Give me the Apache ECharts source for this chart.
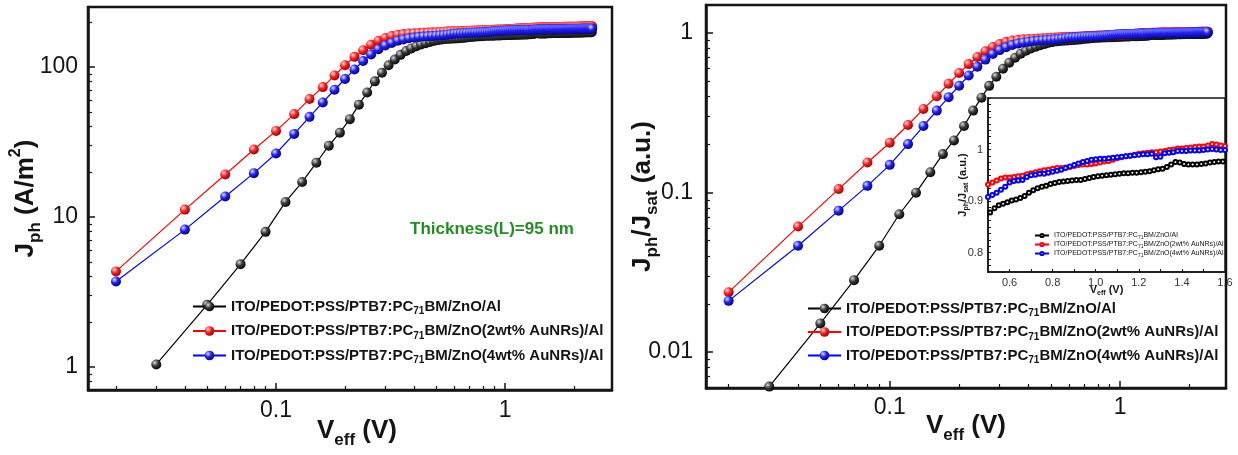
<!DOCTYPE html>
<html>
<head>
<meta charset="utf-8">
<title>Jph vs Veff</title>
<script src="https://cdn.jsdelivr.net/npm/echarts@6.0.0/dist/echarts.min.js"></script>
<style>
  html, body { margin: 0; padding: 0; background: #fff; }
  #chart { width: 1238px; height: 455px; }
</style>
</head>
<body>
<div id="chart"></div>
<script>
// effective voltage (V): the pristine device was sampled on odd hundredths, the AuNR devices on even ones
const vEven = [
  0.02,0.04,0.06,0.08,0.10,0.12,0.14,0.16,0.18,0.20,
  0.22,0.24,0.26,0.28,0.30,0.32,0.34,0.36,0.38,0.40,
  0.42,0.44,0.46,0.48,0.50,0.52,0.54,0.56,0.58,0.60,
  0.62,0.64,0.66,0.68,0.70,0.72,0.74,0.76,0.78,0.80,
  0.82,0.84,0.86,0.88,0.90,0.92,0.94,0.96,0.98,1.00,
  1.02,1.04,1.06,1.08,1.10,1.12,1.14,1.16,1.18,1.20,
  1.22,1.24,1.26,1.28,1.30,1.32,1.34,1.36,1.38,1.40,
  1.42,1.44,1.46,1.48,1.50,1.52,1.54,1.56,1.58,1.60,
  1.62,1.64,1.66,1.68,1.70,1.72,1.74,1.76,1.78,1.80,
  1.82,1.84,1.86,1.88,1.90,1.92,1.94,1.96,1.98,2.00,
  2.02,2.04,2.06,2.08,2.10,2.12,2.14,2.16,2.18,2.20,
  2.22,2.24,2.26,2.28,2.30,2.32,2.34,2.36,2.38,2.40
];
const vOdd = [
  0.03,0.05,0.07,0.09,0.11,0.13,0.15,0.17,0.19,0.21,
  0.23,0.25,0.27,0.29,0.31,0.33,0.35,0.37,0.39,0.41,
  0.43,0.45,0.47,0.49,0.51,0.53,0.55,0.57,0.59,0.61,
  0.63,0.65,0.67,0.69,0.71,0.73,0.75,0.77,0.79,0.81,
  0.83,0.85,0.87,0.89,0.91,0.93,0.95,0.97,0.99,1.01,
  1.03,1.05,1.07,1.09,1.11,1.13,1.15,1.17,1.19,1.21,
  1.23,1.25,1.27,1.29,1.31,1.33,1.35,1.37,1.39,1.41,
  1.43,1.45,1.47,1.49,1.51,1.53,1.55,1.57,1.59,1.61,
  1.63,1.65,1.67,1.69,1.71,1.73,1.75,1.77,1.79,1.81,
  1.83,1.85,1.87,1.89,1.91,1.93,1.95,1.97,1.99,2.01,
  2.03,2.05,2.07,2.09,2.11,2.13,2.15,2.17,2.19,2.21,
  2.23,2.25,2.27,2.29,2.31,2.33,2.35,2.37,2.39
];

// photocurrent density Jph (A/m2), left panel
const jphPristine = [
  1.04,2.60,4.85,7.96,12.6,17.1,23.0,29.9,36.5,44.9,
  56.1,67.6,80.2,91.5,102.7,112.0,120.4,127.6,133.0,137.6,
  141.0,144.1,146.7,149.3,151.0,152.4,153.4,153.9,154.5,155.0,
  155.3,155.8,156.5,157.6,158.4,159.1,159.6,160.0,160.5,160.8,
  161.2,161.3,161.5,161.7,161.9,161.9,162.2,162.5,162.9,163.1,
  163.2,163.4,163.6,163.7,163.9,164.1,164.1,164.3,164.3,164.4,
  164.6,164.8,165.1,165.5,165.6,166.2,167.0,167.9,167.7,167.2,
  167.0,167.0,167.0,167.2,167.4,167.7,167.9,168.0,168.0,168.2,
  168.2,168.4,168.2,168.6,168.7,168.6,168.7,168.9,168.7,168.9,
  169.1,168.9,169.2,169.1,169.2,169.4,169.2,169.4,169.6,169.4,
  169.6,169.8,169.6,169.8,169.9,169.8,169.9,170.1,169.9,170.1,
  170.3,170.1,170.3,170.5,170.3,170.5,170.6,170.5,170.6
];
const jph2wt = [
  4.34,11.2,19.2,28.2,37.5,48.5,61.1,73.4,87.8,102.7,
  116.8,129.4,140.5,149.5,156.1,161.0,164.0,165.8,167.1,168.0,
  168.5,169.1,169.6,170.2,170.6,171.3,172.0,172.8,173.1,173.1,
  173.3,173.5,173.7,174.2,174.6,174.9,175.3,175.7,175.9,176.2,
  176.4,176.4,176.6,176.8,177.1,177.5,177.7,177.7,177.9,178.1,
  178.4,178.8,179.0,179.3,179.9,180.3,180.6,180.8,181.2,181.5,
  181.7,181.9,182.1,182.1,182.3,182.5,182.8,183.0,183.4,183.4,
  183.5,183.7,183.9,184.1,184.1,184.5,185.0,184.8,184.5,184.3,
  184.5,184.5,184.6,184.8,184.6,184.8,185.0,184.8,185.0,185.2,
  185.2,185.0,185.2,185.4,185.4,185.2,185.4,185.6,185.6,185.4,
  185.6,185.7,185.7,185.6,185.7,185.9,185.9,185.7,185.9,186.1,
  185.9,186.1,186.1,186.3,186.1,186.3,186.3,186.5,186.3,186.5
];
const jph4wt = [
  3.72,8.24,13.7,19.6,26.5,35.8,46.5,58.0,70.5,83.1,
  96.3,109.5,121.2,131.4,139.0,144.7,149.5,152.7,155.2,157.0,
  158.4,159.5,160.4,161.1,161.6,162.3,163.0,164.1,165.2,166.6,
  167.1,167.3,167.5,168.6,169.1,169.3,169.6,169.6,170.0,170.3,
  170.7,171.1,171.6,172.1,172.7,173.2,173.7,174.1,174.4,174.6,
  174.8,174.8,175.0,175.2,175.3,175.5,175.7,175.9,176.0,176.2,
  176.4,176.4,176.6,175.3,175.5,176.8,176.9,177.1,177.5,177.5,
  177.5,177.6,177.6,177.6,177.8,178.0,178.2,178.0,177.8,177.8,
  178.0,178.0,178.2,178.0,178.2,178.4,178.4,178.2,178.5,178.5,
  178.5,178.7,178.5,178.7,178.9,178.9,178.7,179.1,179.1,178.9,
  179.2,179.2,179.1,179.4,179.2,179.4,179.6,179.4,179.6,179.8,
  179.6,179.8,180.0,179.8,180.0,180.1,180.0,180.1,180.3,180.1
];

// normalised photocurrent Jph/Jsat, right panel and inset
const ratioPristine = [
  0.00606,0.0151,0.0282,0.0463,0.0730,0.0997,0.134,0.174,0.212,0.261,
  0.326,0.393,0.466,0.532,0.597,0.651,0.700,0.742,0.773,0.800,
  0.820,0.838,0.853,0.868,0.878,0.886,0.892,0.895,0.898,0.901,
  0.903,0.906,0.910,0.916,0.921,0.925,0.928,0.930,0.933,0.935,
  0.937,0.938,0.939,0.940,0.941,0.941,0.943,0.945,0.947,0.948,
  0.949,0.950,0.951,0.952,0.953,0.954,0.954,0.955,0.955,0.956,
  0.957,0.958,0.960,0.962,0.963,0.966,0.971,0.976,0.975,0.972,
  0.971,0.971,0.971,0.972,0.973,0.975,0.976,0.977,0.977,0.978,
  0.978,0.979,0.978,0.980,0.981,0.980,0.981,0.982,0.981,0.982,
  0.983,0.982,0.984,0.983,0.984,0.985,0.984,0.985,0.986,0.985,
  0.986,0.987,0.986,0.987,0.988,0.987,0.988,0.989,0.988,0.989,
  0.990,0.989,0.990,0.991,0.990,0.991,0.992,0.991,0.992
];
const ratio2wt = [
  0.0237,0.0611,0.105,0.154,0.205,0.265,0.334,0.401,0.480,0.561,
  0.638,0.707,0.768,0.817,0.853,0.880,0.896,0.906,0.913,0.918,
  0.921,0.924,0.927,0.930,0.932,0.936,0.940,0.944,0.946,0.946,
  0.947,0.948,0.949,0.952,0.954,0.956,0.958,0.960,0.961,0.963,
  0.964,0.964,0.965,0.966,0.968,0.970,0.971,0.971,0.972,0.973,
  0.975,0.977,0.978,0.980,0.983,0.985,0.987,0.988,0.990,0.992,
  0.993,0.994,0.995,0.995,0.996,0.997,0.999,1.000,1.002,1.002,
  1.003,1.004,1.005,1.006,1.006,1.008,1.011,1.010,1.008,1.007,
  1.008,1.008,1.009,1.010,1.009,1.010,1.011,1.010,1.011,1.012,
  1.012,1.011,1.012,1.013,1.013,1.012,1.013,1.014,1.014,1.013,
  1.014,1.015,1.015,1.014,1.015,1.016,1.016,1.015,1.016,1.017,
  1.016,1.017,1.017,1.018,1.017,1.018,1.018,1.019,1.018,1.019
];
const ratio4wt = [
  0.0209,0.0463,0.0769,0.110,0.149,0.201,0.261,0.326,0.396,0.467,
  0.541,0.615,0.681,0.738,0.781,0.813,0.840,0.858,0.872,0.882,
  0.890,0.896,0.901,0.905,0.908,0.912,0.916,0.922,0.928,0.936,
  0.939,0.940,0.941,0.947,0.950,0.951,0.953,0.953,0.955,0.957,
  0.959,0.961,0.964,0.967,0.970,0.973,0.976,0.978,0.980,0.981,
  0.982,0.982,0.983,0.984,0.985,0.986,0.987,0.988,0.989,0.990,
  0.991,0.991,0.992,0.985,0.986,0.993,0.994,0.995,0.997,0.997,
  0.997,0.998,0.998,0.998,0.999,1.000,1.001,1.000,0.999,0.999,
  1.000,1.000,1.001,1.000,1.001,1.002,1.002,1.001,1.003,1.003,
  1.003,1.004,1.003,1.004,1.005,1.005,1.004,1.006,1.006,1.005,
  1.007,1.007,1.006,1.008,1.007,1.008,1.009,1.008,1.009,1.010,
  1.009,1.010,1.011,1.010,1.011,1.012,1.011,1.012,1.013,1.012
];

const seriesNames = [
  'ITO/PEDOT:PSS/PTB7:PC71BM/ZnO/Al',
  'ITO/PEDOT:PSS/PTB7:PC71BM/ZnO(2wt% AuNRs)/Al',
  'ITO/PEDOT:PSS/PTB7:PC71BM/ZnO(4wt% AuNRs)/Al'
];
const insetTag = 'inset|';

const FONT = '"Liberation Sans", Arial, Helvetica, sans-serif';
const ink = '#141414';
const lineColors = ['#000000', '#ff0000', '#0000ff'];
// shaded balls for the main panels
const balls = [
  ['#d8d8d8', '#3a3a3a', '#000000'],
  ['#ffe0e0', '#ff2020', '#8a0000'],
  ['#e0e0ff', '#2020ff', '#00006a']
];

function pairs(xs, ys) {
  return xs.map(function (x, i) { return [x, ys[i]]; });
}

function ball(stops) {
  return {
    type: 'radial', x: 0.35, y: 0.32, r: 0.75,
    colorStops: [
      { offset: 0, color: stops[0] },
      { offset: 0.45, color: stops[1] },
      { offset: 1, color: stops[2] }
    ]
  };
}

// bold title with subscript / superscript parts
const titleRich = {
  m: { fontFamily: FONT, fontSize: 26, fontWeight: 'bold', color: ink, lineHeight: 36 },
  s: { fontFamily: FONT, fontSize: 17, fontWeight: 'bold', color: ink, verticalAlign: 'bottom' },
  p: { fontFamily: FONT, fontSize: 16, fontWeight: 'bold', color: ink, verticalAlign: 'top' }
};
const smallRich = {
  m: { fontFamily: FONT, fontSize: 11, fontWeight: 'bold', color: ink, lineHeight: 15 },
  s: { fontFamily: FONT, fontSize: 7, fontWeight: 'bold', color: ink, verticalAlign: 'bottom' }
};

function mainAxis(grid, min, max, labelMargin, name, nameGap, rotate, namePad) {
  return {
    type: 'log', logBase: 10, gridIndex: grid, min: min, max: max,
    axisLine: { show: true, onZero: false, lineStyle: { color: ink, width: 2.5 } },
    axisTick: { show: true, inside: true, length: 7, lineStyle: { color: ink, width: 1.5 } },
    minorTick: { show: true, splitNumber: 9, length: 4, lineStyle: { color: ink, width: 1.2 } },
    splitLine: { show: false },
    minorSplitLine: { show: false },
    axisLabel: {
      color: ink, fontFamily: FONT, fontSize: 23, margin: labelMargin,
      showMinLabel: false, showMaxLabel: false
    },
    name: name, nameLocation: 'middle', nameGap: nameGap, nameRotate: rotate,
    nameMoveOverlap: false,
    nameTextStyle: { rich: titleRich, padding: namePad || 0 }
  };
}

// inset ticks: labels only on the tenths
function tenths(digits) {
  return function (v) {
    const t = Math.round(v * 10);
    if (Math.abs(v * 10 - t) > 1e-6) return '';
    return digits(v, t);
  };
}

function insetAxis(min, max, interval, name, nameGap, rotate, fmt) {
  return {
    type: 'value', gridIndex: 2, min: min, max: max, interval: interval, z: 11,
    axisLine: { show: true, onZero: false, lineStyle: { color: ink, width: 1.5 } },
    axisTick: { show: true, inside: true, length: 3, lineStyle: { color: ink, width: 1 } },
    minorTick: { show: false },
    splitLine: { show: false },
    axisLabel: {
      color: '#333', fontFamily: FONT, fontSize: 11, margin: 5,
      showMinLabel: false, formatter: fmt
    },
    name: name, nameLocation: 'middle', nameGap: nameGap, nameRotate: rotate,
    nameMoveOverlap: false,
    nameTextStyle: { rich: smallRich }
  };
}

function legendLabel(fontSize, subSize, lineHeight, weight) {
  return {
    formatter: function (name) {
      const parts = name.replace(insetTag, '').split('PC71BM');
      return '{m|' + parts[0] + 'PC}{s|71}{m|BM' + parts[1] + '}';
    },
    textStyle: {
      rich: {
        m: { fontFamily: FONT, fontSize: fontSize, fontWeight: weight, color: ink, lineHeight: lineHeight },
        s: { fontFamily: FONT, fontSize: subSize, fontWeight: weight, color: ink, verticalAlign: 'bottom' }
      }
    }
  };
}

const xsets = [vOdd, vEven, vEven];
const jphSets = [jphPristine, jph2wt, jph4wt];
const ratioSets = [ratioPristine, ratio2wt, ratio4wt];

const series = [];
[0, 1].forEach(function (panel) {
  [0, 1, 2].forEach(function (k) {
    series.push({
      type: 'line', name: seriesNames[k],
      xAxisIndex: panel, yAxisIndex: panel,
      data: pairs(xsets[k], panel === 0 ? jphSets[k] : ratioSets[k]),
      symbol: 'circle', symbolSize: 10,
      lineStyle: { color: lineColors[k], width: 1.2 },
      itemStyle: { color: ball(balls[k]) },
      emphasis: { disabled: true },
      z: 2
    });
  });
});
[0, 1, 2].forEach(function (k) {
  series.push({
    type: 'line', name: insetTag + seriesNames[k],
    xAxisIndex: 2, yAxisIndex: 2,
    data: pairs(xsets[k], ratioSets[k]),
    symbol: 'emptyCircle', symbolSize: 4,
    lineStyle: { color: lineColors[k], width: 0.8 },
    itemStyle: { color: lineColors[k], borderWidth: 1 },
    emphasis: { disabled: true },
    z: 12
  });
});

const chart = echarts.init(document.getElementById('chart'), null, { renderer: 'canvas' });
chart.setOption({
  animation: false,
  backgroundColor: '#ffffff',
  grid: [
    { left: 88, top: 7, width: 524, height: 383, show: true, borderColor: ink, borderWidth: 2.5,
      outerBoundsMode: 'none' },
    { left: 706, top: 5, width: 520, height: 383, show: true, borderColor: ink, borderWidth: 2.5,
      outerBoundsMode: 'none' },
    { left: 988, top: 98, width: 237, height: 174, show: true, borderColor: ink, borderWidth: 1.5,
      backgroundColor: '#ffffff', z: 10, outerBoundsMode: 'none' }
  ],
  xAxis: [
    mainAxis(0, 0.0151, 2.93, 9, '{m|V}{s|eff}{m| (V)}', 23, 0, [0, 0, 0, 14]),
    mainAxis(1, 0.01595, 2.877, 8, '{m|V}{s|eff}{m| (V)}', 20, 0),
    insetAxis(0.5, 1.6, 0.1, '{m|V}{s|eff}{m| (V)}', 10, 0,
      tenths(function (v, t) { return t % 2 === 0 ? v.toFixed(1) : ''; }))
  ],
  yAxis: [
    mainAxis(0, 0.703, 251, 10, '{m|J}{s|ph}{m| (A/m}{p|2}{m|)}', 44, 90),
    mainAxis(1, 0.00594, 1.498, 13, '{m|J}{s|ph}{m|/J}{s|sat}{m| (a.u.)}', 45, 90),
    insetAxis(0.7625, 1.1, 0.0125, '{m|J}{s|ph}{m|/J}{s|sat}{m| (a.u.)}', 18, 90,
      tenths(function (v, t) { return t === 10 ? '1' : (t === 8 || t === 9 ? v.toFixed(1) : ''); }))
  ],
  legend: [
    Object.assign({
      orient: 'vertical', left: 192, top: 299, itemWidth: 33, itemHeight: 12, itemGap: 7,
      data: seriesNames, selectedMode: false, padding: 0
    }, legendLabel(15, 10, 20, 'bold')),
    Object.assign({
      orient: 'vertical', left: 807, top: 301, itemWidth: 33, itemHeight: 12, itemGap: 6,
      data: seriesNames, selectedMode: false, padding: 0
    }, legendLabel(15, 10, 20, 'bold')),
    Object.assign({
      orient: 'vertical', left: 1034, top: 232, itemWidth: 14, itemHeight: 4, itemGap: 1,
      data: seriesNames.map(function (n) { return insetTag + n; }),
      selectedMode: false, padding: 0, z: 13, itemStyle: { borderWidth: 1 }
    }, legendLabel(7, 5, 9, 'normal'))
  ],
  graphic: [
    {
      type: 'text', left: 410, top: 221, z: 5,
      style: {
        text: 'Thickness(L)=95 nm', fill: '#1f8f1f',
        font: 'bold 17px ' + FONT
      }
    }
  ],
  series: series
});
</script>
</body>
</html>
